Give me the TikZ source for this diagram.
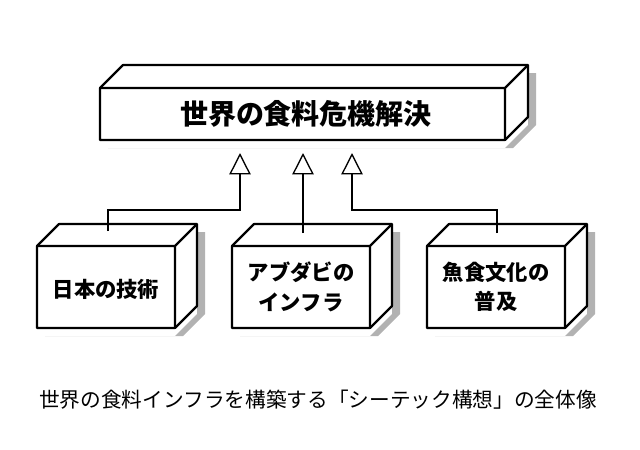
\documentclass[tikz,border=0pt]{standalone}
\usepackage{fontspec}
\setmainfont{Noto Sans CJK JP}
\usetikzlibrary{arrows.meta}
\newcommand\mycube[5]{% x1 y1 x2 y2 depth
  \fill[shadowc] (#1+8,#4+8) -- (#3+8,#4+8) -- (#3+#5+8,#4-#5+8) -- (#3+#5+8,#2-#5+8) -- (#3+#5,#2-#5+8) -- (#3+#5,#4-#5+8) -- (#3,#4+8) -- cycle;
  \draw[boxline,fill=white] (#1,#2) -- (#1+#5,#2-#5) -- (#3+#5,#2-#5) -- (#3+#5,#4-#5) -- (#3,#4) -- (#1,#4) -- cycle;
  \draw[boxline] (#1,#2) -- (#3,#2) -- (#3+#5,#2-#5) (#3,#2) -- (#3,#4);
}
\begin{document}
\begin{tikzpicture}[x=0.75pt,y=-0.75pt,
  shadowc/.style={fill=black!30},
  boxline/.style={line width=1.6pt,line join=round},
  conn/.style={line width=1pt,-{Triangle[open,length=16pt,width=16pt,line width=1pt]}},
  lab/.style={align=center,text=black}]
\useasboundingbox (0,0) rectangle (640,450);
\mycube{100}{88}{505}{140}{23}
\mycube{37}{246}{175}{328}{22}
\mycube{232}{246}{370}{328}{22}
\mycube{427}{246}{565}{328}{22}
\node[lab,font=\fontsize{21pt}{24pt}\selectfont\bfseries] (top) at (306,114) {世界の食料危機解決};
\node[lab,font=\fontsize{16pt}{22pt}\selectfont\bfseries] (b1) at (106,289) {日本の技術};
\node[lab,font=\fontsize{16pt}{22pt}\selectfont\bfseries] (b2) at (301,287) {アブダビの\\インフラ};
\node[lab,font=\fontsize{16pt}{22pt}\selectfont\bfseries] (b3) at (496,287) {魚食文化の\\普及};
\coordinate (t1) at (240,153); \coordinate (t2) at (303,153); \coordinate (t3) at (352,153);
\coordinate (s1) at (108,231); \coordinate (s2) at (303,233); \coordinate (s3) at (497,233);
\draw[conn] (s1) -- (108,210) -- (240,210) -- (t1);
\draw[conn] (s2) -- (t2);
\draw[conn] (s3) -- (497,210) -- (352,210) -- (t3);
\node[font=\fontsize{15.5pt}{17pt}\selectfont] (cap) at (318,400) {世界の食料インフラを構築する「シーテック構想」の全体像};
\end{tikzpicture}
\end{document}
